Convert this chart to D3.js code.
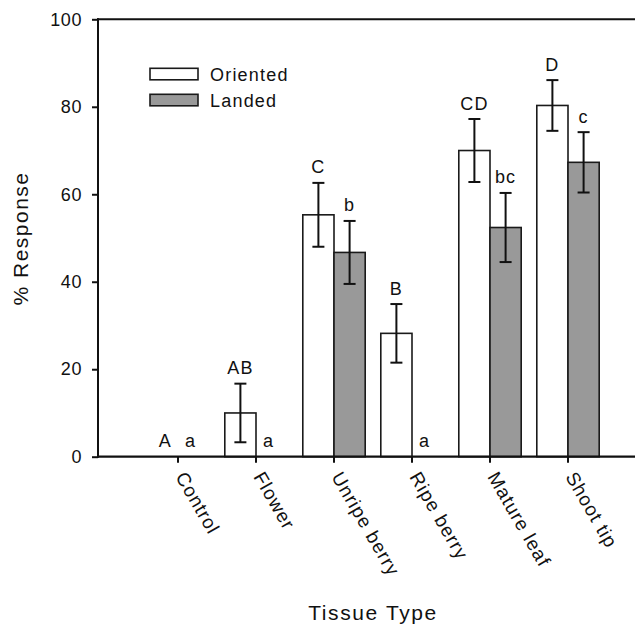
<!DOCTYPE html>
<html>
<head>
<meta charset="utf-8">
<script src="https://cdn.jsdelivr.net/npm/d3@7"></script>
<style>
  html, body { margin: 0; padding: 0; background: #fff; }
  svg text { font-family: "Liberation Sans", Arial, sans-serif; fill: #111; }
</style>
</head>
<body>
<svg id="chart" width="635" height="625"></svg>
<script>
// tissue categories and the two response series (% of insects)
var categories = ["Control", "Flower", "Unripe berry", "Ripe berry", "Mature leaf", "Shoot tip"];
var oriented = [0, 10.0, 55.3, 28.2, 70.0, 80.3];
var orientedErr = [0, 6.7, 7.3, 6.7, 7.2, 5.8];
var landed = [0, 0, 46.7, 0, 52.4, 67.3];
var landedErr = [0, 0, 7.2, 0, 7.9, 6.9];
var orientedLetters = ["A", "AB", "C", "B", "CD", "D"];
var landedLetters = ["a", "a", "b", "a", "bc", "c"];
var yTicks = [0, 20, 40, 60, 80, 100];
var seriesNames = ["Oriented", "Landed"];
var seriesFill = ["#ffffff", "#999999"];

var svg = d3.select("#chart");
var plotLeft = 98, plotRight = 648, plotTop = 19.3, plotBottom = 456.7;

// scales
var x = d3.scaleBand().domain(categories).range([139, 607]).paddingInner(0.2).paddingOuter(0.1);
var half = x.bandwidth() / 2;
var y = d3.scaleLinear().domain([0, 100]).range([plotBottom, plotTop]);

// one record per bar
var flat = [];
categories.forEach(function(c, i) {
  flat.push({ cat: c, s: 0, v: oriented[i], e: orientedErr[i], lab: orientedLetters[i] });
  flat.push({ cat: c, s: 1, v: landed[i], e: landedErr[i], lab: landedLetters[i] });
});

function barX(d) { return x(d.cat) + d.s * half; }
function barMid(d) { return barX(d) + half / 2; }

// bars (zero values draw nothing)
svg.append("g").selectAll("rect")
  .data(flat.filter(function(d) { return d.v > 0; }))
  .enter().append("rect")
    .attr("x", barX)
    .attr("y", function(d) { return y(d.v); })
    .attr("width", half)
    .attr("height", function(d) { return y(0) - y(d.v); })
    .attr("fill", function(d) { return seriesFill[d.s]; })
    .attr("stroke", "#1a1a1a")
    .attr("stroke-width", 1.6);

// error bars
var eg = svg.append("g").attr("stroke", "#111").attr("stroke-width", 2);
flat.filter(function(d) { return d.e > 0; }).forEach(function(d) {
  var cx = barMid(d);
  eg.append("line").attr("x1", cx).attr("x2", cx).attr("y1", y(d.v + d.e)).attr("y2", y(d.v - d.e));
  eg.append("line").attr("x1", cx - 6).attr("x2", cx + 6).attr("y1", y(d.v + d.e)).attr("y2", y(d.v + d.e));
  eg.append("line").attr("x1", cx - 6).attr("x2", cx + 6).attr("y1", y(d.v - d.e)).attr("y2", y(d.v - d.e));
});

// significance letters
svg.append("g").selectAll("text")
  .data(flat)
  .enter().append("text")
    .attr("x", function(d) { return barMid(d) + (d.v === 0 ? (d.s === 0 ? 3 : -3) : 0); })
    .attr("y", function(d) { return d.v === 0 ? y(0) - 9.5 : y(d.v + d.e) - 9.5; })
    .attr("text-anchor", "middle")
    .style("font-size", "18px")
    .style("letter-spacing", "1.2px")
    .text(function(d) { return d.lab; });

// y axis
var yAxis = svg.append("g")
  .attr("transform", "translate(" + plotLeft + ",0)")
  .call(d3.axisLeft(y).tickValues(yTicks).tickSize(6).tickPadding(10));
yAxis.select(".domain").remove();
yAxis.selectAll("line").attr("stroke", "#111").attr("stroke-width", 2);
yAxis.selectAll("text").style("font-size", "18px").style("letter-spacing", "0.6px")
  .style("font-family", "Liberation Sans, Arial, sans-serif").attr("fill", "#111");

// x axis, tick sits between the two bars
var xAxis = svg.append("g")
  .attr("transform", "translate(0," + plotBottom + ")")
  .call(d3.axisBottom(x).tickSize(6).tickSizeOuter(0).tickFormat(""));
xAxis.select(".domain").remove();
xAxis.selectAll("line").attr("stroke", "#111").attr("stroke-width", 2);
xAxis.selectAll(".tick").append("text")
  .attr("transform", "translate(-3,20) rotate(60)")
  .attr("text-anchor", "start")
  .style("font-size", "19px")
  .style("letter-spacing", "1px")
  .style("font-family", "Liberation Sans, Arial, sans-serif")
  .attr("fill", "#111")
  .text(function(d) { return d; });

// frame lines
svg.append("line").attr("x1", plotLeft).attr("x2", plotLeft).attr("y1", plotTop - 1).attr("y2", plotBottom + 1)
  .attr("stroke", "#111").attr("stroke-width", 2);
svg.append("line").attr("x1", plotLeft - 1).attr("x2", plotRight).attr("y1", plotBottom).attr("y2", plotBottom)
  .attr("stroke", "#111").attr("stroke-width", 2.2);
svg.append("line").attr("x1", plotLeft - 1).attr("x2", plotRight).attr("y1", plotTop).attr("y2", plotTop)
  .attr("stroke", "#111").attr("stroke-width", 2);

// legend
var lg = svg.append("g");
seriesNames.forEach(function(n, i) {
  lg.append("rect").attr("x", 150).attr("y", 68.3 + i * 26).attr("width", 48).attr("height", 11.5)
    .attr("fill", seriesFill[i]).attr("stroke", "#1a1a1a").attr("stroke-width", 1.6);
  lg.append("text").attr("x", 210).attr("y", 81 + i * 26)
    .style("font-size", "18px").style("letter-spacing", "1.2px").text(n);
});

// axis titles
svg.append("text")
  .attr("transform", "translate(28,238.5) rotate(-90)")
  .attr("text-anchor", "middle")
  .style("font-size", "21px").style("letter-spacing", "1.5px")
  .text("% Response");
svg.append("text")
  .attr("x", 373).attr("y", 620)
  .attr("text-anchor", "middle")
  .style("font-size", "21px").style("letter-spacing", "1.6px")
  .text("Tissue Type");
</script>
</body>
</html>
